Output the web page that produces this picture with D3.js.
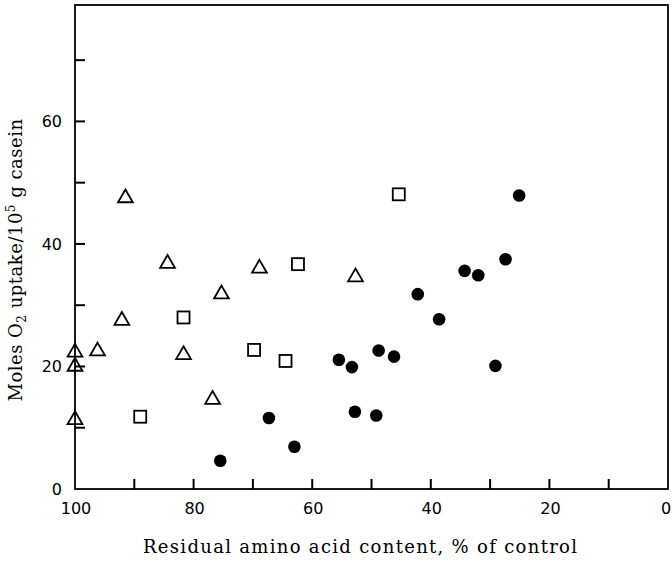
<!DOCTYPE html>
<html>
<head>
<meta charset="utf-8">
<script src="https://cdn.jsdelivr.net/npm/d3@7"></script>
<style>
  body { margin: 0; background: #fff; }
  svg { display: block; }
  .tick-label { font-family: "DejaVu Sans", sans-serif; font-size: 16px; }
  .axis-title { font-family: "DejaVu Serif", serif; font-size: 18px; }
</style>
</head>
<body>
<div id="app"></div>
<script>
// residual amino acid (% of control) vs O2 uptake
const triX = [100, 100, 100, 96.2, 92.1, 91.5, 84.4, 81.7, 75.3, 76.8, 68.9, 52.7];
const triY = [11.3, 20.0, 22.3, 22.5, 27.5, 47.5, 36.8, 21.9, 31.8, 14.6, 36.0, 34.6];

const sqX = [89.0, 81.7, 69.8, 64.5, 62.4, 45.4];
const sqY = [11.8, 28.0, 22.7, 20.9, 36.7, 48.1];

const dotX = [75.5, 67.3, 63.0, 55.5, 53.3, 52.8, 49.2, 48.8, 46.2, 42.2, 38.6, 34.3, 32.0, 29.1, 27.4, 25.1];
const dotY = [4.6, 11.6, 6.9, 21.1, 19.9, 12.6, 12.0, 22.6, 21.6, 31.8, 27.7, 35.6, 34.9, 20.1, 37.5, 47.9];

const xTickLabels = [100, 80, 60, 40, 20, 0];
const yTickLabels = [0, 20, 40, 60];
const xTicks = d3.range(0, 101, 10);
const yTicks = d3.range(10, 71, 10);

const W = 672, H = 562;
const m = {left: 75, right: 668, top: 5, bottom: 489};

const svg = d3.select('#app').append('svg')
  .attr('width', W)
  .attr('height', H)

const x = d3.scaleLinear().domain([100, 0]).range([m.left, m.right])
const y = d3.scaleLinear().domain([0, 79]).range([m.bottom, m.top])

// frame
svg.append('rect')
  .attr('x', m.left).attr('y', m.top)
  .attr('width', m.right - m.left).attr('height', m.bottom - m.top)
  .attr('fill', 'none').attr('stroke', '#000').attr('stroke-width', 1.8)

// inward ticks
svg.append('g').selectAll('line').data(xTicks.filter(d => d > 0 && d < 100)).join('line')
  .attr('x1', d => x(d)).attr('x2', d => x(d))
  .attr('y1', m.bottom).attr('y2', m.bottom - 10)
  .attr('stroke', '#000').attr('stroke-width', 2)

svg.append('g').selectAll('line').data(yTicks).join('line')
  .attr('x1', m.left).attr('x2', m.left + 10)
  .attr('y1', d => y(d)).attr('y2', d => y(d))
  .attr('stroke', '#000').attr('stroke-width', 2)

// tick labels (last one pulled in so it stays on the page)
svg.append('g').selectAll('text').data(xTickLabels).join('text')
  .attr('class', 'tick-label')
  .attr('x', d => Math.min(x(d) + 1, W - 6)).attr('y', m.bottom + 25)
  .attr('text-anchor', 'middle')
  .text(d => d)

svg.append('g').selectAll('text').data(yTickLabels).join('text')
  .attr('class', 'tick-label')
  .attr('x', m.left - 13).attr('y', d => y(d) + 6)
  .attr('text-anchor', 'end')
  .text(d => d)

// axis titles
svg.append('text')
  .attr('class', 'axis-title')
  .attr('x', 360).attr('y', 553)
  .attr('text-anchor', 'middle')
  .attr('textLength', 434)
  .attr('lengthAdjust', 'spacing')
  .text('Residual amino acid content, % of control')

const yt = svg.append('text')
  .attr('class', 'axis-title')
  .attr('transform', 'translate(22, 260) rotate(-90)')
  .attr('text-anchor', 'middle')
  .attr('letter-spacing', 0.5)
yt.append('tspan').text('Moles O')
yt.append('tspan').attr('dy', 4).attr('font-size', 12).text('2')
yt.append('tspan').attr('dy', -4).text(' uptake/10')
yt.append('tspan').attr('dy', -7).attr('font-size', 12).text('5')
yt.append('tspan').attr('dy', 7).text(' g casein')

// markers
const tri = d3.symbol().type(d3.symbolTriangle).size(95)

svg.append('g').selectAll('path').data(d3.zip(triX, triY)).join('path')
  .attr('d', tri)
  .attr('transform', d => `translate(${x(d[0])},${y(d[1])})`)
  .attr('fill', 'none').attr('stroke', '#000').attr('stroke-width', 1.8)

svg.append('g').selectAll('rect').data(d3.zip(sqX, sqY)).join('rect')
  .attr('x', d => x(d[0]) - 6).attr('y', d => y(d[1]) - 6)
  .attr('width', 12).attr('height', 12)
  .attr('fill', 'none').attr('stroke', '#000').attr('stroke-width', 1.8)

svg.append('g').selectAll('circle').data(d3.zip(dotX, dotY)).join('circle')
  .attr('cx', d => x(d[0])).attr('cy', d => y(d[1]))
  .attr('r', 6.3)
  .attr('fill', '#000')
</script>
</body>
</html>
